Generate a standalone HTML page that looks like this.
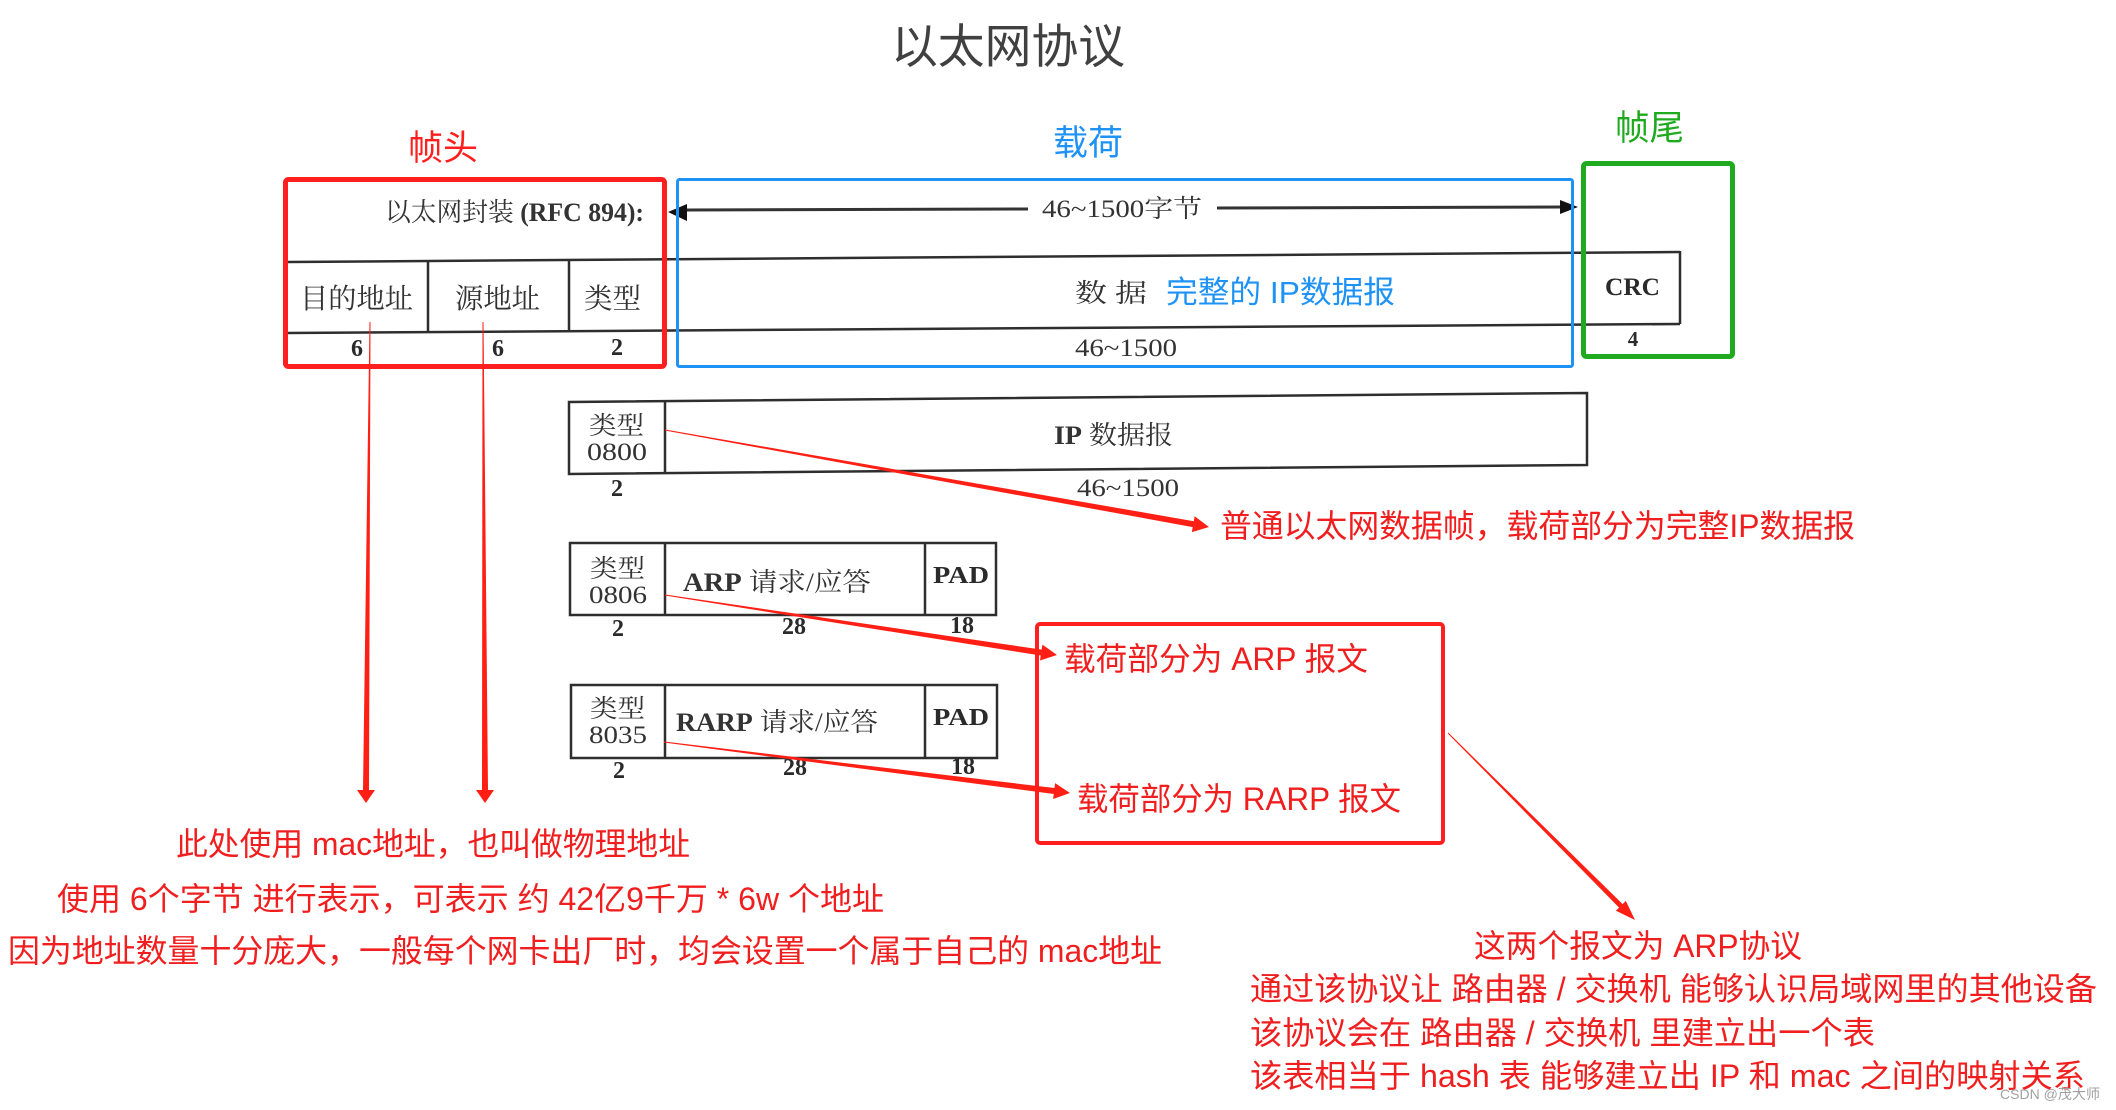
<!DOCTYPE html>
<html>
<head>
<meta charset="utf-8">
<style>
html,body{margin:0;padding:0;background:#fff;}
body{width:2116px;height:1110px;overflow:hidden;}
svg{display:block;}
.sc{font-family:"Liberation Serif","Noto Serif CJK SC",serif;fill:#333;}
.scb{font-family:"Liberation Serif","Noto Serif CJK SC",serif;fill:#2a2a2a;font-weight:bold;}
.an{font-family:"Liberation Sans","Noto Sans CJK SC",sans-serif;fill:#f01e1e;font-size:32px;}
.ln{stroke:#2e2e2e;stroke-width:2.5;fill:none;}
</style>
</head>
<body>
<svg width="2116" height="1110" viewBox="0 0 2116 1110" xmlns="http://www.w3.org/2000/svg">
  <!-- Title -->
  <text x="891" y="63" font-size="47" textLength="234" lengthAdjust="spacingAndGlyphs" style="font-family:'Liberation Sans','Noto Sans CJK SC',sans-serif;fill:#404040;">以太网协议</text>

  <!-- section labels -->
  <text x="408" y="160" font-size="35" textLength="70" lengthAdjust="spacingAndGlyphs" style="font-family:'Liberation Sans','Noto Sans CJK SC',sans-serif;fill:#ff1f1f;">帧头</text>
  <text x="1053" y="155" font-size="35" textLength="70" lengthAdjust="spacingAndGlyphs" style="font-family:'Liberation Sans','Noto Sans CJK SC',sans-serif;fill:#1f93f5;">载荷</text>
  <text x="1615" y="140" font-size="35" textLength="69" lengthAdjust="spacingAndGlyphs" style="font-family:'Liberation Sans','Noto Sans CJK SC',sans-serif;fill:#1faa1f;">帧尾</text>

  <!-- Main frame scanned diagram -->
  <text x="385" y="221" font-size="26" textLength="259" lengthAdjust="spacingAndGlyphs" class="sc">以太网封装 <tspan style="font-weight:bold">(RFC 894):</tspan></text>

  <!-- 46~1500 bytes arrow -->
  <line x1="687" y1="210" x2="1028" y2="209" stroke="#333" stroke-width="3"/>
  <polygon points="687,204 687,221 668,212" fill="#111"/>
  <text x="1042" y="217" font-size="25" textLength="160" lengthAdjust="spacingAndGlyphs" class="sc">46~1500字节</text>
  <line x1="1217" y1="208" x2="1562" y2="207" stroke="#333" stroke-width="3"/>
  <polygon points="1560,200 1560,214 1578,207" fill="#111"/>
  <line x1="1583" y1="165" x2="1583" y2="250" stroke="#555" stroke-width="2" stroke-dasharray="7 5"/>

  <!-- frame row lines -->
  <line class="ln" x1="288" y1="262" x2="1680" y2="252"/>
  <line class="ln" x1="288" y1="333" x2="1680" y2="324"/>
  <line class="ln" x1="428" y1="262" x2="428" y2="333"/>
  <line class="ln" x1="569" y1="261" x2="569" y2="332"/>
  <line class="ln" x1="1584" y1="252" x2="1584" y2="324"/>
  <line class="ln" x1="1680" y1="251" x2="1680" y2="324"/>

  <text x="300" y="308" font-size="28" textLength="113" lengthAdjust="spacingAndGlyphs" class="sc">目的地址</text>
  <text x="455" y="308" font-size="28" textLength="85" lengthAdjust="spacingAndGlyphs" class="sc">源地址</text>
  <text x="584" y="308" font-size="28" textLength="57" lengthAdjust="spacingAndGlyphs" class="sc">类型</text>
  <text x="357" y="356" font-size="24" text-anchor="middle" class="scb">6</text>
  <text x="498" y="356" font-size="24" text-anchor="middle" class="scb">6</text>
  <text x="617" y="355" font-size="24" text-anchor="middle" class="scb">2</text>

  <text x="1075" y="302" font-size="26" textLength="72" lengthAdjust="spacingAndGlyphs" class="sc">数 据</text>
  <text x="1166" y="303" font-size="31" textLength="229" lengthAdjust="spacingAndGlyphs" style="font-family:'Liberation Sans','Noto Sans CJK SC',sans-serif;fill:#1f93f5;">完整的 IP数据报</text>
  <text x="1075" y="356" font-size="25" textLength="102" lengthAdjust="spacingAndGlyphs" class="sc">46~1500</text>

  <text x="1605" y="295" font-size="25" textLength="55" lengthAdjust="spacingAndGlyphs" class="scb">CRC</text>
  <text x="1633" y="346" font-size="21" text-anchor="middle" class="scb">4</text>

  <!-- colored boxes -->
  <rect x="285.5" y="179.5" width="379" height="187" rx="3" fill="none" stroke="#ff1f1f" stroke-width="5"/>
  <rect x="677.5" y="179.5" width="895" height="187" rx="2" fill="none" stroke="#1f93f5" stroke-width="3"/>
  <rect x="1583.5" y="163.5" width="149" height="193" rx="3" fill="none" stroke="#1faa1f" stroke-width="5"/>

  <!-- IP row -->
  <polygon points="569,402 1587,393 1587,465 569,474" fill="none" stroke="#2e2e2e" stroke-width="2.5"/>
  <line class="ln" x1="665" y1="401" x2="665" y2="473"/>
  <text x="589" y="434" font-size="25" textLength="55" lengthAdjust="spacingAndGlyphs" class="sc">类型</text>
  <text x="587" y="460" font-size="25" textLength="60" lengthAdjust="spacingAndGlyphs" class="sc">0800</text>
  <text x="617" y="496" font-size="24" text-anchor="middle" class="scb">2</text>
  <text x="1054" y="444" font-size="26" textLength="119" lengthAdjust="spacingAndGlyphs" class="sc"><tspan style="font-weight:bold">IP</tspan> 数据报</text>
  <text x="1077" y="496" font-size="25" textLength="102" lengthAdjust="spacingAndGlyphs" class="sc">46~1500</text>

  <!-- ARP row -->
  <rect x="570" y="543" width="426" height="72" fill="none" stroke="#2e2e2e" stroke-width="2.5"/>
  <line class="ln" x1="665" y1="543" x2="665" y2="615"/>
  <line class="ln" x1="925" y1="543" x2="925" y2="615"/>
  <text x="590" y="577" font-size="25" textLength="55" lengthAdjust="spacingAndGlyphs" class="sc">类型</text>
  <text x="589" y="603" font-size="25" textLength="58" lengthAdjust="spacingAndGlyphs" class="sc">0806</text>
  <text x="683" y="591" font-size="26" textLength="188" lengthAdjust="spacingAndGlyphs" class="sc"><tspan style="font-weight:bold">ARP</tspan> 请求/应答</text>
  <text x="933" y="583" font-size="24" textLength="56" lengthAdjust="spacingAndGlyphs" class="scb">PAD</text>
  <text x="618" y="636" font-size="24" text-anchor="middle" class="scb">2</text>
  <text x="794" y="634" font-size="24" text-anchor="middle" class="scb">28</text>
  <text x="962" y="633" font-size="24" text-anchor="middle" class="scb">18</text>

  <!-- RARP row -->
  <rect x="571" y="685" width="426" height="73" fill="none" stroke="#2e2e2e" stroke-width="2.5"/>
  <line class="ln" x1="665" y1="685" x2="665" y2="758"/>
  <line class="ln" x1="925" y1="685" x2="925" y2="758"/>
  <text x="590" y="717" font-size="25" textLength="55" lengthAdjust="spacingAndGlyphs" class="sc">类型</text>
  <text x="589" y="743" font-size="25" textLength="58" lengthAdjust="spacingAndGlyphs" class="sc">8035</text>
  <text x="676" y="731" font-size="26" textLength="202" lengthAdjust="spacingAndGlyphs" class="sc"><tspan style="font-weight:bold">RARP</tspan> 请求/应答</text>
  <text x="933" y="725" font-size="24" textLength="56" lengthAdjust="spacingAndGlyphs" class="scb">PAD</text>
  <text x="619" y="778" font-size="24" text-anchor="middle" class="scb">2</text>
  <text x="795" y="775" font-size="24" text-anchor="middle" class="scb">28</text>
  <text x="963" y="774" font-size="24" text-anchor="middle" class="scb">18</text>

  <!-- ARP annotation red box -->
  <rect x="1037" y="624" width="406" height="219" rx="3" fill="none" stroke="#ff1f1f" stroke-width="4"/>

  <!-- red arrows -->
  <g fill="#ff1f14">
    <!-- vertical arrows -->
    <polygon points="369.5,322 370.5,322 369,790 375,790 366,803 357,790 363,790"/>
    <polygon points="482.5,322 483.5,322 488,790 494,790 485,803 476,790 482,790"/>
    <!-- IP arrow -->
    <polygon points="665.1,429.5 1193.8,521.2 1194.65,516.3 1209,527 1191.85,532.1 1192.7,527.1 664.9,430.5"/>
    <!-- ARP arrow -->
    <polygon points="665.08,594.51 1041.64,649.61 1042.40,644.67 1057,655 1039.98,660.49 1040.74,655.55 664.92,595.49"/>
    <!-- RARP arrow -->
    <polygon points="664.06,741.5 1054.49,788.03 1055.12,783.07 1070,793 1053.12,798.95 1053.75,793.99 663.94,742.5"/>
    <!-- diagonal arrow -->
    <polygon points="1448.35,732.65 1622.63,904.09 1625.81,900.91 1635,920 1615.91,910.81 1619.09,907.63 1447.65,733.35"/>
  </g>

  <!-- annotations -->
  <text x="1220" y="537" textLength="635" lengthAdjust="spacingAndGlyphs" class="an">普通以太网数据帧，载荷部分为完整IP数据报</text>
  <text x="1064" y="670" textLength="304" lengthAdjust="spacingAndGlyphs" class="an">载荷部分为 ARP 报文</text>
  <text x="1077" y="810" textLength="324" lengthAdjust="spacingAndGlyphs" class="an">载荷部分为 RARP 报文</text>

  <text x="176" y="855" textLength="514" lengthAdjust="spacingAndGlyphs" class="an">此处使用 mac地址，也叫做物理地址</text>
  <text x="57" y="910" textLength="827" lengthAdjust="spacingAndGlyphs" class="an">使用 6个字节 进行表示，可表示 约 42亿9千万 * 6w 个地址</text>
  <text x="8" y="962" textLength="1154" lengthAdjust="spacingAndGlyphs" class="an">因为地址数量十分庞大，一般每个网卡出厂时，均会设置一个属于自己的 mac地址</text>

  <text x="1474" y="957" textLength="328" lengthAdjust="spacingAndGlyphs" class="an">这两个报文为 ARP协议</text>
  <text x="1250" y="1000" textLength="847" lengthAdjust="spacingAndGlyphs" class="an">通过该协议让 路由器 / 交换机 能够认识局域网里的其他设备</text>
  <text x="1250" y="1044" textLength="625" lengthAdjust="spacingAndGlyphs" class="an">该协议会在 路由器 / 交换机 里建立出一个表</text>
  <text x="1250" y="1087" textLength="835" lengthAdjust="spacingAndGlyphs" class="an">该表相当于 hash 表 能够建立出 IP 和 mac 之间的映射关系</text>

  <text x="2000" y="1099" font-size="14" textLength="100" lengthAdjust="spacingAndGlyphs" style="font-family:'Liberation Sans','Noto Sans CJK SC',sans-serif;fill:#a0a0a0;">CSDN @茂大师</text>
</svg>
</body>
</html>
